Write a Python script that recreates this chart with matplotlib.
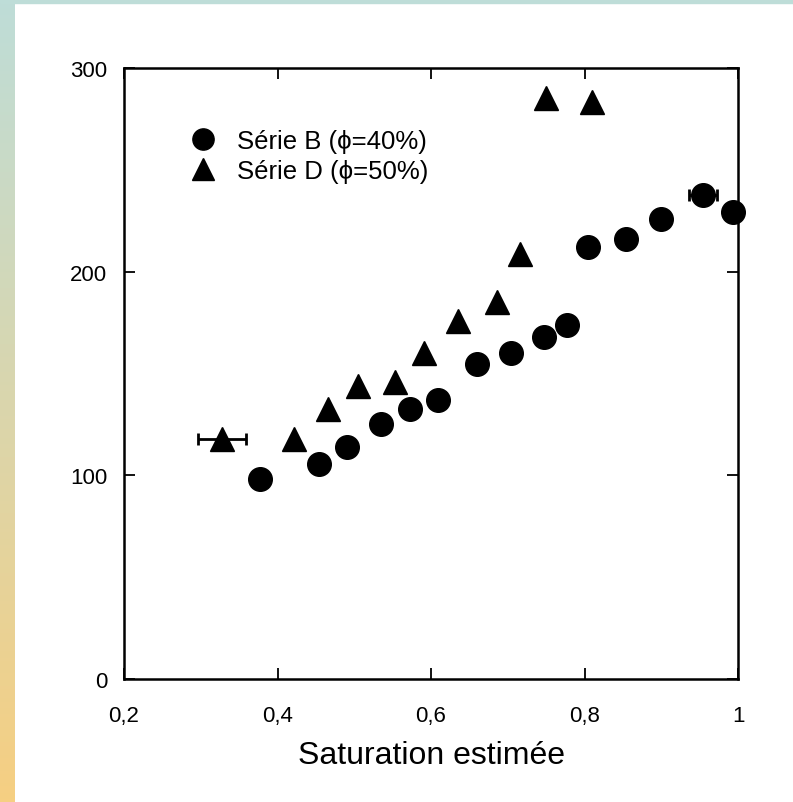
import numpy as np
import matplotlib
matplotlib.use("Agg")
import matplotlib.pyplot as plt
from matplotlib.patches import Rectangle

plt.rcParams['font.family'] = ['Liberation Sans', 'DejaVu Sans']

# Série B (phi = 40%)
sat_b = [0.377, 0.454, 0.490, 0.535, 0.573, 0.609, 0.660, 0.704, 0.747, 0.777,
         0.805, 0.854, 0.900, 0.954, 0.993]
val_b = [98, 105.5, 114, 125, 132.5, 137, 154.5, 160, 168, 174,
         212, 216, 226, 237.5, 229.5]
err_b = [0, 0, 0, 0, 0, 0, 0, 0, 0, 0, 0, 0, 0, 0.018, 0]

# Série D (phi = 50%)
sat_d = [0.328, 0.421, 0.466, 0.505, 0.553, 0.591, 0.635, 0.686, 0.716, 0.750, 0.810]
val_d = [118, 118, 132.5, 144, 146, 160, 176, 185, 208.5, 285.5, 283.5]
err_d = [0.031, 0, 0, 0, 0, 0, 0, 0, 0, 0, 0]

xticks = [0.2, 0.4, 0.6, 0.8, 1.0]
xticklabels = ['0,2', '0,4', '0,6', '0,8', '1']
yticks = [0, 100, 200, 300]
yticklabels = ['0', '100', '200', '300']

W, H = 793, 803
fig = plt.figure(figsize=(W / 100, H / 100), dpi=100)
fig.patch.set_facecolor('white')

# decorative slide border: gradient strip on the left, thin band on top
strip = fig.add_axes([0, 0, 15 / W, 1])
grad = np.linspace(0, 1, 256)[:, None]
top_c = np.array([190, 221, 216]) / 255
bot_c = np.array([246, 207, 130]) / 255
img = top_c[None, None, :] * (1 - grad[..., None]) + bot_c[None, None, :] * grad[..., None]
strip.imshow(img, aspect='auto', extent=[0, 1, 0, 1])
strip.axis('off')
fig.patches.append(Rectangle((0, 1 - 4 / H), 1, 4 / H, transform=fig.transFigure,
                             color=top_c, zorder=0))

ax = fig.add_axes([124 / W, 1 - 680 / H, 614 / W, 611 / H])

eb_b = ax.errorbar(sat_b, val_b, xerr=err_b, fmt='o', color='black', ms=17,
                   elinewidth=2, capsize=4, capthick=2, clip_on=False, zorder=3)
eb_d = ax.errorbar(sat_d, val_d, xerr=err_d, fmt='^', color='black', ms=17,
                   elinewidth=2, capsize=4, capthick=2, clip_on=False, zorder=3)

ax.set_xlim(0.2, 1.0)
ax.set_ylim(0, 300)
ax.set_xticks(xticks)
ax.set_xticklabels(xticklabels)
ax.set_yticks(yticks)
ax.set_yticklabels(yticklabels)
ax.tick_params(direction='in', top=True, right=True, length=8, width=1.3,
               labelsize=16, colors='black')
ax.tick_params(axis='x', pad=19)
ax.tick_params(axis='y', pad=12)
for s in ax.spines.values():
    s.set_linewidth(1.8)

ax.set_xlabel('Saturation estimée', fontsize=23, labelpad=10)

ax.legend([eb_b[0], eb_d[0]], ['Série B (ϕ=40%)', 'Série D (ϕ=50%)'],
          loc='center left', bbox_to_anchor=(0.106, 0.856), frameon=False,
          fontsize=18.5, borderpad=0, borderaxespad=0, handletextpad=0.75,
          labelspacing=0.2, markerscale=0.9, handlelength=1.1)

fig.savefig('out.png', dpi=100)
